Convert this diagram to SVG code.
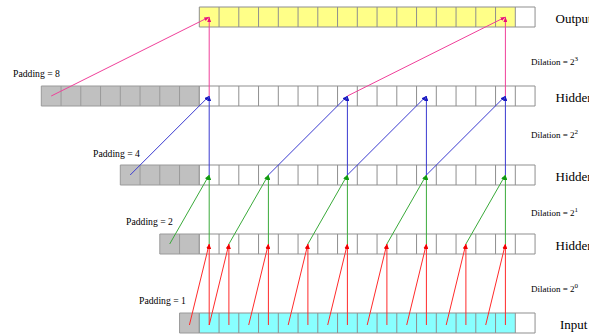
<svg xmlns="http://www.w3.org/2000/svg" xmlns:xlink="http://www.w3.org/1999/xlink" width="589" height="336" viewBox="0 0 589 336">
  <style>
    .grid { fill: none; stroke: #8f8f8f; stroke-width: 1; }
    .pad { fill: #c0c0c0; }
    .padgrid { fill: none; stroke: #9a9a9a; stroke-width: 1; }
    .white { fill: #ffffff; }
    .out { fill: #ffff88; }
    .in { fill: #88ffff; }
    text { font-family: "Liberation Serif", "DejaVu Serif", serif; fill: #000; }
    .lbl { font-size: 13px; }
    .small { font-size: 9.7px; }
    .dil { font-size: 9px; }
    .sup { font-size: 7px; }
    .c-pink { stroke: #f0409a; stroke-width: 1; fill: none; marker-end: url(#ah-pink); }
    .c-blue { stroke: #3a3ad0; stroke-width: 1; fill: none; marker-end: url(#ah-blue); }
    .c-green { stroke: #3aaa3a; stroke-width: 1; fill: none; marker-end: url(#ah-green); }
    .c-red { stroke: #ff2a2a; stroke-width: 1; fill: none; marker-end: url(#ah-red); }
  </style>
  <defs>
    <!-- 17-cell row grid (16 time steps + one trailing cell), 20px tall -->
    <path id="cols" class="grid" d="M199.3,0h335.75v20h-335.75z M219.05,0v20 M238.8,0v20 M258.55,0v20 M278.3,0v20 M298.05,0v20 M317.8,0v20 M337.55,0v20 M357.3,0v20 M377.05,0v20 M396.8,0v20 M416.55,0v20 M436.3,0v20 M456.05,0v20 M475.8,0v20 M495.55,0v20 M515.3,0v20"/>
    <marker id="ah-pink" viewBox="0 0 5 4" refX="5" refY="2" markerWidth="5" markerHeight="4" markerUnits="userSpaceOnUse" orient="auto"><path d="M0,0L5,2L0,4z" fill="#e8107a"/></marker>
    <marker id="ah-blue" viewBox="0 0 5 4" refX="5" refY="2" markerWidth="5" markerHeight="4" markerUnits="userSpaceOnUse" orient="auto"><path d="M0,0L5,2L0,4z" fill="#1818c0"/></marker>
    <marker id="ah-green" viewBox="0 0 5 4" refX="5" refY="2" markerWidth="5" markerHeight="4" markerUnits="userSpaceOnUse" orient="auto"><path d="M0,0L5,2L0,4z" fill="#109a10"/></marker>
    <marker id="ah-red" viewBox="0 0 5 4" refX="5" refY="2" markerWidth="5" markerHeight="4" markerUnits="userSpaceOnUse" orient="auto"><path d="M0,0L5,2L0,4z" fill="#f00000"/></marker>
  </defs>

  <rect width="589" height="336" fill="#ffffff"/>

  <!-- Output layer -->
  <g id="output">
    <rect class="out" x="199.3" y="7" width="316" height="20"/>
    <rect class="white" x="515.3" y="7" width="19.75" height="20"/>
    <use xlink:href="#cols" y="7"/>
    <text class="lbl" x="555.5" y="23">Output</text>
  </g>

  <!-- Hidden layer 1 with 8 padding cells -->
  <g id="hidden1">
    <rect class="pad" x="41.3" y="86" width="158" height="20"/>
    <path class="padgrid" d="M41.3,86h158v20h-158z M61.05,86v20 M80.8,86v20 M100.55,86v20 M120.3,86v20 M140.05,86v20 M159.8,86v20 M179.55,86v20"/>
    <rect class="white" x="199.3" y="86" width="335.75" height="20"/>
    <use xlink:href="#cols" y="86"/>
    <text class="lbl" x="555.5" y="102">Hidden</text>
    <text class="small" x="13" y="77">Padding = 8</text>
  </g>

  <!-- Hidden layer 2 with 4 padding cells -->
  <g id="hidden2">
    <rect class="pad" x="120.3" y="165" width="79" height="20"/>
    <path class="padgrid" d="M120.3,165h79v20h-79z M140.05,165v20 M159.8,165v20 M179.55,165v20"/>
    <rect class="white" x="199.3" y="165" width="335.75" height="20"/>
    <use xlink:href="#cols" y="165"/>
    <text class="lbl" x="555.5" y="181">Hidden</text>
    <text class="small" x="93" y="157">Padding = 4</text>
  </g>

  <!-- Hidden layer 3 with 2 padding cells -->
  <g id="hidden3">
    <rect class="pad" x="159.8" y="234" width="39.5" height="20"/>
    <path class="padgrid" d="M159.8,234h39.5v20h-39.5z M179.55,234v20"/>
    <rect class="white" x="199.3" y="234" width="335.75" height="20"/>
    <use xlink:href="#cols" y="234"/>
    <text class="lbl" x="555.5" y="250">Hidden</text>
    <text class="small" x="126" y="225">Padding = 2</text>
  </g>

  <!-- Input layer with 1 padding cell -->
  <g id="input">
    <rect class="pad" x="179.55" y="313" width="19.75" height="20"/>
    <path class="padgrid" d="M179.55,313h19.75v20h-19.75z"/>
    <rect class="in" x="199.3" y="313" width="316" height="20"/>
    <rect class="white" x="515.3" y="313" width="19.75" height="20"/>
    <use xlink:href="#cols" y="313"/>
    <text class="lbl" x="560" y="329">Input</text>
    <text class="small" x="139" y="304">Padding = 1</text>
  </g>

  <!-- Dilation labels -->
  <g id="dilations">
    <text class="dil" x="531" y="65">Dilation = 2<tspan class="sup" dy="-4">3</tspan></text>
    <text class="dil" x="531" y="138">Dilation = 2<tspan class="sup" dy="-4">2</tspan></text>
    <text class="dil" x="531" y="216">Dilation = 2<tspan class="sup" dy="-4">1</tspan></text>
    <text class="dil" x="531" y="292">Dilation = 2<tspan class="sup" dy="-4">0</tspan></text>
  </g>

  <!-- Connectors -->
  <g id="connectors">
    <!-- hidden 1 -> output, dilation 8 -->
    <line class="c-pink" x1="51.2" y1="96" x2="209.2" y2="17"/>
    <line class="c-pink" x1="209.2" y1="96" x2="209.2" y2="17"/>
    <line class="c-pink" x1="347.4" y1="96" x2="505.4" y2="17"/>
    <line class="c-pink" x1="505.4" y1="96" x2="505.4" y2="17"/>

    <!-- hidden 2 -> hidden 1, dilation 4 -->
    <line class="c-blue" x1="130.2" y1="175" x2="209.2" y2="96"/>
    <line class="c-blue" x1="209.2" y1="175" x2="209.2" y2="96"/>
    <line class="c-blue" x1="268.4" y1="175" x2="347.4" y2="96"/>
    <line class="c-blue" x1="347.4" y1="175" x2="347.4" y2="96"/>
    <line class="c-blue" x1="347.4" y1="175" x2="426.4" y2="96"/>
    <line class="c-blue" x1="426.4" y1="175" x2="426.4" y2="96"/>
    <line class="c-blue" x1="426.4" y1="175" x2="505.4" y2="96"/>
    <line class="c-blue" x1="505.4" y1="175" x2="505.4" y2="96"/>

    <!-- hidden 3 -> hidden 2, dilation 2 -->
    <line class="c-green" x1="169.7" y1="244" x2="209.2" y2="175"/>
    <line class="c-green" x1="209.2" y1="244" x2="209.2" y2="175"/>
    <line class="c-green" x1="228.9" y1="244" x2="268.4" y2="175"/>
    <line class="c-green" x1="268.4" y1="244" x2="268.4" y2="175"/>
    <line class="c-green" x1="307.9" y1="244" x2="347.4" y2="175"/>
    <line class="c-green" x1="347.4" y1="244" x2="347.4" y2="175"/>
    <line class="c-green" x1="386.9" y1="244" x2="426.4" y2="175"/>
    <line class="c-green" x1="426.4" y1="244" x2="426.4" y2="175"/>
    <line class="c-green" x1="465.9" y1="244" x2="505.4" y2="175"/>
    <line class="c-green" x1="505.4" y1="244" x2="505.4" y2="175"/>

    <!-- input -> hidden 3, dilation 1 -->
    <line class="c-red" x1="189.4" y1="325" x2="209.2" y2="244"/>
    <line class="c-red" x1="209.2" y1="325" x2="209.2" y2="244"/>
    <line class="c-red" x1="209.2" y1="325" x2="228.9" y2="244"/>
    <line class="c-red" x1="228.9" y1="325" x2="228.9" y2="244"/>
    <line class="c-red" x1="248.7" y1="325" x2="268.4" y2="244"/>
    <line class="c-red" x1="268.4" y1="325" x2="268.4" y2="244"/>
    <line class="c-red" x1="288.2" y1="325" x2="307.9" y2="244"/>
    <line class="c-red" x1="307.9" y1="325" x2="307.9" y2="244"/>
    <line class="c-red" x1="327.7" y1="325" x2="347.4" y2="244"/>
    <line class="c-red" x1="347.4" y1="325" x2="347.4" y2="244"/>
    <line class="c-red" x1="367.2" y1="325" x2="386.9" y2="244"/>
    <line class="c-red" x1="386.9" y1="325" x2="386.9" y2="244"/>
    <line class="c-red" x1="406.7" y1="325" x2="426.4" y2="244"/>
    <line class="c-red" x1="426.4" y1="325" x2="426.4" y2="244"/>
    <line class="c-red" x1="446.2" y1="325" x2="465.9" y2="244"/>
    <line class="c-red" x1="465.9" y1="325" x2="465.9" y2="244"/>
    <line class="c-red" x1="485.7" y1="325" x2="505.4" y2="244"/>
    <line class="c-red" x1="505.4" y1="325" x2="505.4" y2="244"/>
  </g>
</svg>
